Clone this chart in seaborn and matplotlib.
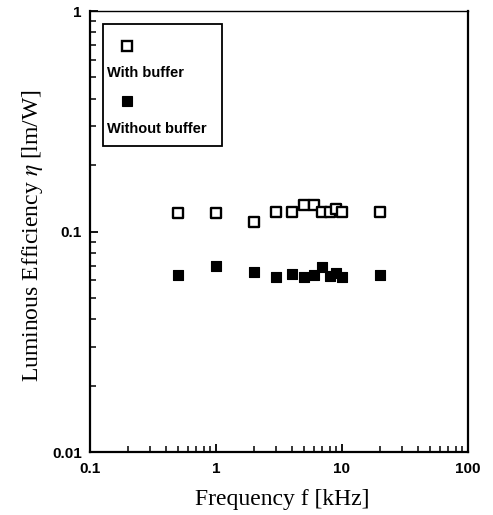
import numpy as np
import pandas as pd
import matplotlib
matplotlib.use("Agg")
import matplotlib.pyplot as plt
from matplotlib.patches import Rectangle
import seaborn as sns

# Frequency [kHz] and luminous efficiency [lm/W]
freq_with = [0.5, 1, 2, 3, 4, 5, 6, 7, 8, 9, 10, 20]
eff_with = [0.121, 0.121, 0.110, 0.122, 0.122, 0.132, 0.132, 0.122, 0.122, 0.127, 0.122, 0.122]

freq_without = [0.5, 1, 2, 3, 4, 5, 6, 7, 8, 9, 10, 20]
eff_without = [0.0636, 0.070, 0.0655, 0.0625, 0.064, 0.062, 0.0636, 0.069, 0.063, 0.065, 0.062, 0.0636]

series_labels = ["With buffer", "Without buffer"]
x_ticks = [0.1, 1, 10, 100]
x_ticklabels = ["0.1", "1", "10", "100"]
y_ticks = [0.01, 0.1, 1]
y_ticklabels = ["0.01", "0.1", "1"]

sns.set_theme(style="white")
plt.rcParams.update({
    "mathtext.fontset": "stix",
    "text.color": "black",
    "axes.labelcolor": "black",
    "xtick.color": "black",
    "ytick.color": "black",
})

fig = plt.figure(figsize=(4.93, 5.15), dpi=100)
ax = fig.add_axes([0.1826, 0.1223, 0.949 - 0.1826, 0.9786 - 0.1223])

df_with = pd.DataFrame({"f": freq_with, "eta": eff_with})
df_without = pd.DataFrame({"f": freq_without, "eta": eff_without})

sns.scatterplot(data=df_with, x="f", y="eta", marker="s", s=44,
                facecolor="white", edgecolor="black", linewidth=1.7, ax=ax, zorder=3)
sns.scatterplot(data=df_without, x="f", y="eta", marker="s", s=50,
                color="black", edgecolor="black", linewidth=0.8, ax=ax, zorder=3)

ax.set_xscale("log")
ax.set_yscale("log")
ax.set_xlim(0.1, 100)
ax.set_ylim(0.01, 1)

for side in ["left", "bottom", "right"]:
    ax.spines[side].set_color("black")
    ax.spines[side].set_linewidth(1.6)
ax.spines["top"].set_color("black")
ax.spines["top"].set_linewidth(1.0)

ax.set_xticks(x_ticks)
ax.set_xticklabels(x_ticklabels)
ax.set_yticks(y_ticks)
ax.set_yticklabels(y_ticklabels)
ax.tick_params(which="major", direction="in", length=6, width=1.3,
               bottom=True, left=True, top=False, right=False)
ax.tick_params(axis="x", which="major", pad=7)
ax.tick_params(axis="y", which="major", pad=6)
ax.tick_params(which="minor", direction="in", length=4, width=1.1,
               bottom=True, left=True, top=False, right=False)
for lbl in ax.get_xticklabels() + ax.get_yticklabels():
    lbl.set_fontfamily("Liberation Sans")
    lbl.set_fontweight("bold")
    lbl.set_fontsize(11)

ax.set_xlabel("Frequency f [kHz]", fontfamily="Liberation Serif", fontsize=17, va="top")
ax.xaxis.set_label_coords(0.51, -0.083)
ax.set_ylabel(r"Luminous Efficiency $\eta$ [lm/W]", fontfamily="Liberation Serif",
              fontsize=17, va="center")
ax.yaxis.set_label_coords(-0.151, 0.49)

# legend box drawn in axes coordinates
ax.add_patch(Rectangle((0.034, 0.695), 0.315, 0.275, transform=ax.transAxes,
                       facecolor="white", edgecolor="black", linewidth=1.3, zorder=4))
ax.plot([0.098], [0.921], marker="s", ms=6.5, mfc="white", mec="black", mew=1.7,
        transform=ax.transAxes, zorder=5, linestyle="none")
ax.text(0.045, 0.860, series_labels[0], transform=ax.transAxes, fontfamily="Liberation Sans",
        fontweight="bold", fontsize=10.5, va="center", ha="left", zorder=5)
ax.plot([0.098], [0.795], marker="s", ms=6.5, mfc="black", mec="black", mew=0.8,
        transform=ax.transAxes, zorder=5, linestyle="none")
ax.text(0.045, 0.733, series_labels[1], transform=ax.transAxes, fontfamily="Liberation Sans",
        fontweight="bold", fontsize=10.5, va="center", ha="left", zorder=5)

fig.savefig("out.png", dpi=100, facecolor="white")
